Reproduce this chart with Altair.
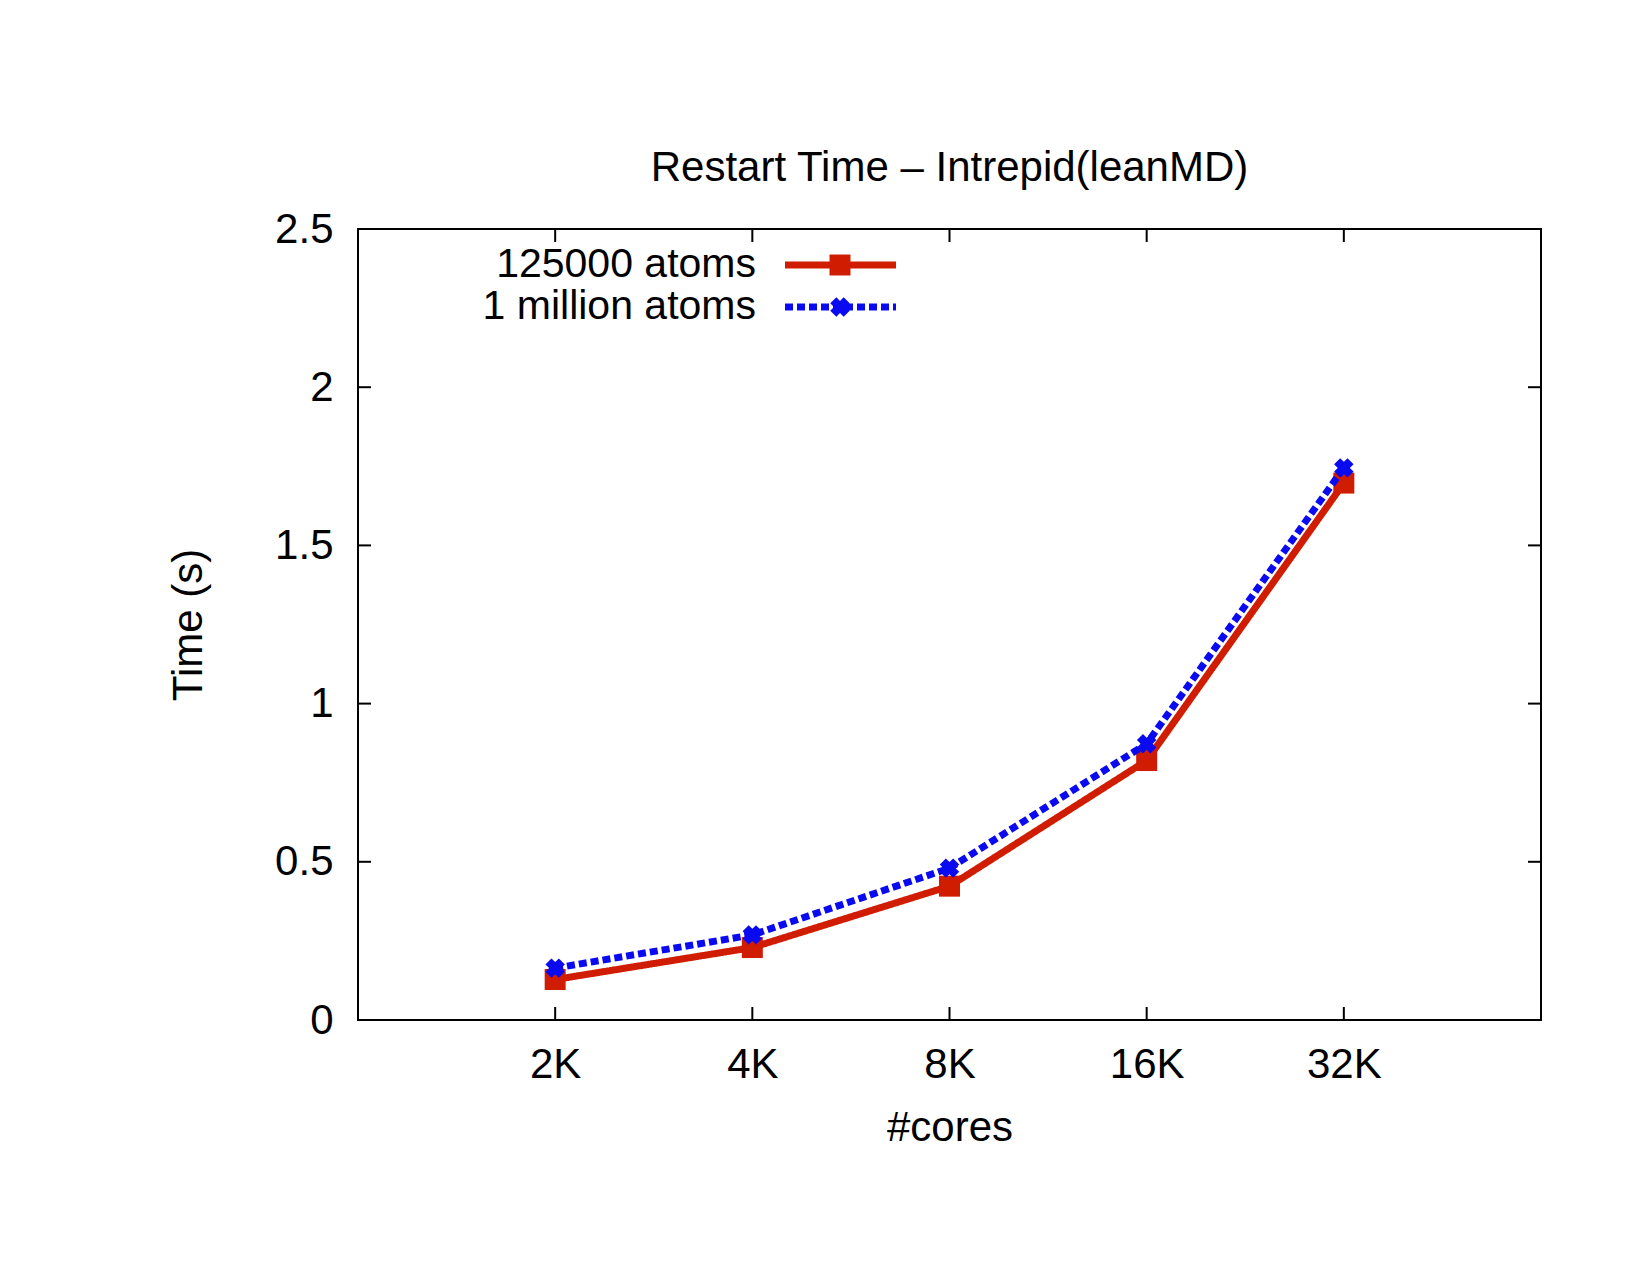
import altair as alt
import pandas as pd

cores = ["2K", "4K", "8K", "16K", "32K"]
series_names = ["125000 atoms", "1 million atoms"]
time_125k = [0.128, 0.229, 0.423, 0.82, 1.697]
time_1m = [0.164, 0.269, 0.480, 0.873, 1.745]
y_ticks = [0, 0.5, 1, 1.5, 2, 2.5]

THICK_X = "M-0.45,-1H0.45V-0.45H1V0.45H0.45V1H-0.45V0.45H-1V-0.45H-0.45Z"
colors = ["#d01c00", "#0a0af0"]
shapes = ["square", THICK_X]
angles = [0, 45]
sizes = [440, 360]
dashes = [[1, 0], [8, 4]]

W, H = 1183, 791
FONT = "Liberation Sans"
FS = 42
KEY_FS = 41

xscale = alt.Scale(type="point", padding=1)
yscale = alt.Scale(domain=[0, 2.5], nice=False, zero=True)

xenc = alt.X("cores:N", sort=cores, scale=xscale,
             axis=alt.Axis(title="#cores", labelAngle=0, labelAlign="center", tickSize=0,
                           domain=False, labelPadding=44, titlePadding=22, labelFont=FONT,
                           titleFont=FONT, labelFontSize=FS, titleFontSize=FS,
                           labelColor="black", titleColor="black",
                           titleFontWeight="normal", grid=False))
yenc = alt.Y("time:Q", scale=yscale,
             axis=alt.Axis(title="Time (s)", values=y_ticks, format="~g", tickSize=0,
                           domain=False, labelPadding=25, titlePadding=64, labelFont=FONT,
                           titleFont=FONT, labelFontSize=FS, titleFontSize=FS,
                           labelColor="black", titleColor="black",
                           titleFontWeight="normal", grid=False))

layers = []
for i, (name, vals) in enumerate([(series_names[0], time_125k), (series_names[1], time_1m)]):
    df = pd.DataFrame({"cores": cores, "time": vals, "series": name})
    base = alt.Chart(df)
    line = base.mark_line(color=colors[i], strokeWidth=7, strokeDash=dashes[i],
                          strokeCap="butt").encode(x=xenc, y=yenc)
    pts = base.mark_point(shape=shapes[i], size=sizes[i], angle=angles[i], filled=True,
                          color=colors[i], opacity=1).encode(x=xenc, y=yenc)
    layers += [line, pts]

# inward ticks (gnuplot style), mirrored on all sides
xt = pd.DataFrame({"cores": cores})
yt = pd.DataFrame({"time": y_ticks})
tick_len = 13
xt_bottom = alt.Chart(xt).mark_rule(color="black", strokeWidth=2).encode(
    x=alt.X("cores:N", sort=cores, scale=xscale), y=alt.value(H), y2=alt.value(H - tick_len))
xt_top = alt.Chart(xt).mark_rule(color="black", strokeWidth=2).encode(
    x=alt.X("cores:N", sort=cores, scale=xscale), y=alt.value(0), y2=alt.value(tick_len))
yt_left = alt.Chart(yt).mark_rule(color="black", strokeWidth=2).encode(
    y=alt.Y("time:Q", scale=yscale), x=alt.value(0), x2=alt.value(tick_len))
yt_right = alt.Chart(yt).mark_rule(color="black", strokeWidth=2).encode(
    y=alt.Y("time:Q", scale=yscale), x=alt.value(W), x2=alt.value(W - tick_len))

# gnuplot-style key: text right-aligned, sample to the right
key = []
one = pd.DataFrame({"k": [0]})
for i, name in enumerate(series_names):
    ky = 36 + 42 * i
    key.append(alt.Chart(pd.DataFrame({"label": [name]})).mark_text(
        align="right", baseline="middle", font=FONT, fontSize=KEY_FS, color="black").encode(
        x=alt.value(398), y=alt.value(ky), text="label:N"))
    key.append(alt.Chart(one).mark_rule(color=colors[i], strokeWidth=7,
                                        strokeDash=dashes[i], strokeCap="butt").encode(
        x=alt.value(427), x2=alt.value(538), y=alt.value(ky)))
    key.append(alt.Chart(one).mark_point(shape=shapes[i], size=sizes[i], angle=angles[i],
                                         filled=True, color=colors[i], opacity=1).encode(
        x=alt.value(482), y=alt.value(ky)))

chart = alt.layer(xt_bottom, xt_top, yt_left, yt_right, *layers, *key).properties(
    width=W, height=H,
    title=alt.Title("Restart Time \u2013 Intrepid(leanMD)", font=FONT, fontSize=FS,
                    fontWeight="normal", color="black", offset=18, anchor="middle"),
    autosize=alt.AutoSizeParams(type="none"),
    padding={"left": 350, "top": 221, "right": 100, "bottom": 240},
    background="white",
).configure_view(stroke="black", strokeWidth=2)

chart.save("out.html", embed_options={"renderer": "svg", "actions": False})
